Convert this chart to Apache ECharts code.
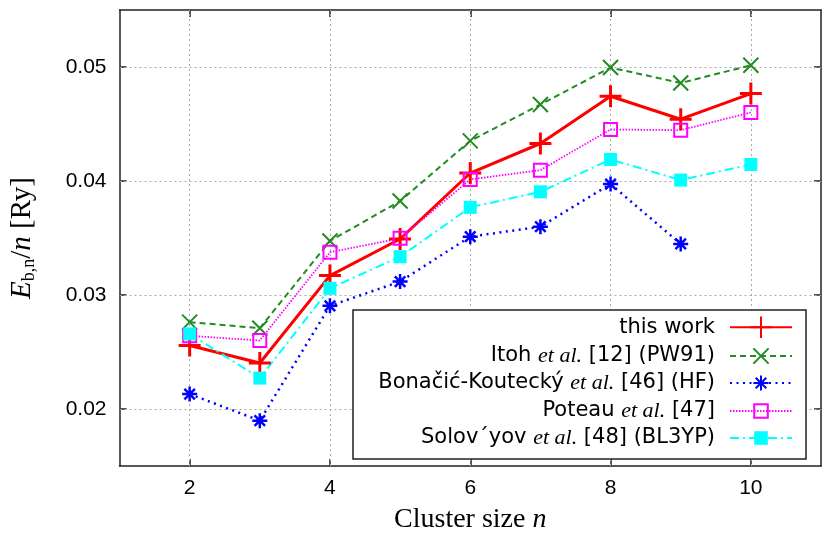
<!DOCTYPE html>
<html>
<head>
<meta charset="utf-8">
<script src="https://cdn.jsdelivr.net/npm/echarts@6/dist/echarts.min.js"></script>
<style>
  html, body { margin: 0; padding: 0; background: #fff; }
  #chart { width: 831px; height: 539px; }
</style>
</head>
<body>
<div id="chart"></div>
<script>
// cluster sizes n
const sizes = [2, 3, 4, 5, 6, 7, 8, 9, 10];
// binding energy per atom E_b,n/n [Ry]
const thisWork = [0.02557, 0.02403, 0.03170, 0.03491, 0.04070, 0.04329, 0.04743, 0.04542, 0.04767];
const itoh     = [0.02762, 0.02709, 0.03474, 0.03824, 0.04352, 0.04671, 0.04995, 0.04860, 0.05015];
const bonacic  = [0.02131, 0.01898, 0.02905, 0.03118, 0.03512, 0.03599, 0.03973, 0.03448];
const poteau   = [0.02642, 0.02601, 0.03375, 0.03497, 0.04014, 0.04095, 0.04452, 0.04446, 0.04601];
const solovyov = [0.02659, 0.02271, 0.03059, 0.03336, 0.03769, 0.03905, 0.04189, 0.04008, 0.04145];
const xTicks = [2, 4, 6, 8, 10];
const yTicks = [0.02, 0.03, 0.04, 0.05];

const names = [
  'this work',
  'Itoh et al. [12] (PW91)',
  'Bonačić-Koutecký et al. [46] (HF)',
  'Poteau et al. [47]',
  'Solov´yov et al. [48] (BL3YP)'
];
const labels = {
  'this work': '{n|this work}',
  'Itoh et al. [12] (PW91)': '{n|Itoh }{i|et al.}{n| [12] (PW91)}',
  'Bonačić-Koutecký et al. [46] (HF)': '{n|Bonačić-Koutecký }{i|et al.}{n| [46] (HF)}',
  'Poteau et al. [47]': '{n|Poteau }{i|et al.}{n| [47]}',
  'Solov´yov et al. [48] (BL3YP)': '{n|Solov´yov }{i|et al.}{n| [48] (BL3YP)}'
};

function pts(arr) {
  return arr.map((v, i) => [sizes[i], v]);
}

const plusPath = 'path://M0,5 L10,5 M5,0 L5,10';
const crossPath = 'path://M0,0 L10,10 M0,10 L10,0';
const starPath = 'path://M0,5 L10,5 M5,0 L5,10 M1.5,1.5 L8.5,8.5 M1.5,8.5 L8.5,1.5';

const axisLineStyle = { color: '#222', width: 1.5 };
const tickFont = { fontFamily: 'Liberation Sans', fontSize: 21, color: '#000' };
const gridLine = { color: '#aaa', width: 1, type: [2, 3] };

const legendRows = [329, 357, 384, 412, 439];
const legendIconH = [27, 19, 19, 17, 17];
const legends = names.map((nm, i) => {
  const h = Math.max(legendIconH[i], 24);
  return {
    data: [nm],
    right: 38,
    top: legendRows[i] - h / 2,
    padding: 0,
    align: 'right',
    itemWidth: 62,
    itemHeight: legendIconH[i],
    selectedMode: false,
    z: 20,
    formatter: (name) => labels[name],
    textStyle: {
      padding: [0, 10, 0, 0],
      rich: {
        n: { fontFamily: 'DejaVu Sans', fontSize: 21, color: '#000', lineHeight: 24 },
        i: { fontFamily: 'Liberation Serif', fontStyle: 'italic', fontSize: 22, color: '#000', lineHeight: 24 }
      }
    }
  };
});

const myChart = echarts.init(document.getElementById('chart'));
const option = {
  animation: false,
  backgroundColor: '#fff',
  grid: { left: 119, top: 10, width: 702, height: 456 },
  xAxis: [
    {
      type: 'value', min: 1, max: 11, position: 'bottom',
      name: 'Cluster size {ni|n}',
      nameLocation: 'middle',
      nameGap: 40,
      nameTextStyle: {
        fontFamily: 'Liberation Serif', fontSize: 28, color: '#000',
        rich: { ni: { fontFamily: 'Liberation Serif', fontStyle: 'italic', fontSize: 28, color: '#000' } }
      },
      axisLine: { show: true, lineStyle: axisLineStyle },
      axisTick: { show: true, inside: true, length: 7, customValues: xTicks, lineStyle: axisLineStyle },
      axisLabel: { show: true, margin: 12, customValues: xTicks, ...tickFont },
      splitLine: { show: false }
    },
    {
      type: 'value', min: 1, max: 11, position: 'top',
      axisLine: { show: true, lineStyle: axisLineStyle },
      axisTick: { show: true, inside: true, length: 7, customValues: xTicks, lineStyle: axisLineStyle },
      axisLabel: { show: false, customValues: xTicks },
      splitLine: { show: false }
    }
  ],
  yAxis: [
    {
      type: 'value', min: 0.015, max: 0.055, position: 'left',
      name: '{i|E}{s|b,n}{r|/}{i|n}{r| [Ry]}',
      nameLocation: 'middle',
      nameGap: 81,
      nameTextStyle: {
        rich: {
          i: { fontFamily: 'Liberation Serif', fontStyle: 'italic', fontSize: 29, color: '#000', lineHeight: 32 },
          r: { fontFamily: 'Liberation Serif', fontSize: 29, color: '#000', lineHeight: 32 },
          s: { fontFamily: 'Liberation Serif', fontSize: 18, color: '#000', lineHeight: 17, verticalAlign: 'bottom' }
        }
      },
      axisLine: { show: true, lineStyle: axisLineStyle },
      axisTick: { show: true, inside: true, length: 7, customValues: yTicks, lineStyle: axisLineStyle },
      axisLabel: { show: true, margin: 13, customValues: yTicks, formatter: (v) => v.toFixed(2), ...tickFont },
      splitLine: { show: false }
    },
    {
      type: 'value', min: 0.015, max: 0.055, position: 'right',
      axisLine: { show: true, lineStyle: axisLineStyle },
      axisTick: { show: true, inside: true, length: 7, customValues: yTicks, lineStyle: axisLineStyle },
      axisLabel: { show: false, customValues: yTicks },
      splitLine: { show: false }
    }
  ],
  legend: legends,
  graphic: {
    elements: [
      {
        type: 'rect', z: 3,
        shape: { x: 353, y: 310, width: 453, height: 149 },
        style: { fill: '#fff', stroke: '#222', lineWidth: 1.5 }
      }
    ]
  },
  series: [
    {
      // grid lines
      type: 'line', data: [], z: 1, silent: true,
      markLine: {
        silent: true, z: 1, symbol: 'none', label: { show: false },
        lineStyle: gridLine,
        data: xTicks.map((v) => ({ xAxis: v })).concat(yTicks.map((v) => ({ yAxis: v })))
      }
    },
    {
      name: names[0], type: 'line', data: pts(thisWork), z: 2,
      symbol: plusPath, symbolSize: 22,
      lineStyle: { color: '#ff0000', width: 3 },
      itemStyle: { color: '#ff0000', borderColor: '#ff0000', borderWidth: 3 }
    },
    {
      name: names[1], type: 'line', data: pts(itoh), z: 2,
      symbol: crossPath, symbolSize: 15,
      lineStyle: { color: '#228b22', width: 2, type: [6, 4] },
      itemStyle: { color: '#228b22', borderColor: '#228b22', borderWidth: 2 }
    },
    {
      name: names[2], type: 'line', data: pts(bonacic), z: 2,
      symbol: starPath, symbolSize: 15,
      lineStyle: { color: '#0000ff', width: 2.5, type: [2, 4.5] },
      itemStyle: { color: '#0000ff', borderColor: '#0000ff', borderWidth: 2.5 }
    },
    {
      name: names[3], type: 'line', data: pts(poteau), z: 2,
      symbol: 'rect', symbolSize: 13,
      lineStyle: { color: '#ff00ff', width: 1.8, type: [1.5, 1.5] },
      itemStyle: { color: 'rgba(0,0,0,0)', borderColor: '#ff00ff', borderWidth: 2 }
    },
    {
      name: names[4], type: 'line', data: pts(solovyov), z: 2,
      symbol: 'rect', symbolSize: 13,
      lineStyle: { color: '#00ffff', width: 2, type: [9, 4, 2, 4] },
      itemStyle: { color: '#00ffff' }
    }
  ]
};
myChart.setOption(option);
</script>
</body>
</html>
